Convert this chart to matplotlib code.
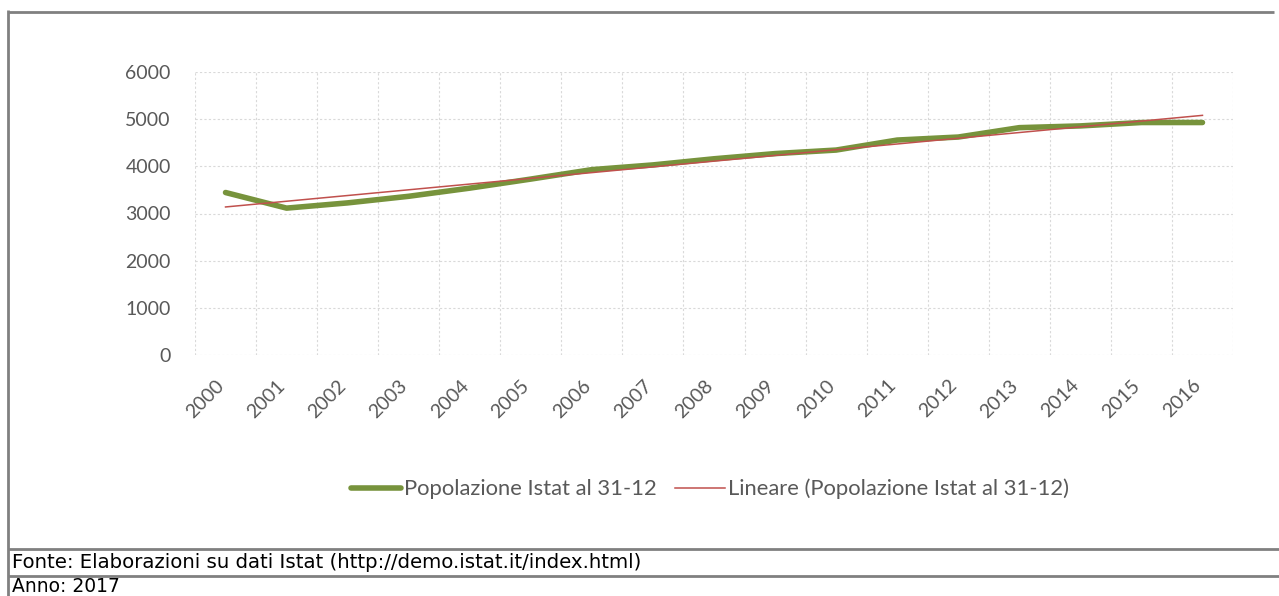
import numpy as np
import matplotlib
matplotlib.use("Agg")
import matplotlib.pyplot as plt
from matplotlib.lines import Line2D
from matplotlib.transforms import ScaledTranslation

years = ["2000", "2001", "2002", "2003", "2004", "2005", "2006", "2007", "2008",
         "2009", "2010", "2011", "2012", "2013", "2014", "2015", "2016"]
population = [3445, 3114, 3225, 3365, 3538, 3730, 3930, 4030, 4160,
              4270, 4345, 4557, 4621, 4820, 4857, 4929, 4929]
y_ticks = [0, 1000, 2000, 3000, 4000, 5000, 6000]
series_label = "Popolazione Istat al 31-12"
trend_label = "Lineare (Popolazione Istat al 31-12)"
source_text = "Fonte: Elaborazioni su dati Istat (http://demo.istat.it/index.html)"
year_text = "Anno: 2017"

W, H = 1279, 596
fig = plt.figure(figsize=(W / 100, H / 100), dpi=100)
fig.patch.set_facecolor("white")

ax = fig.add_axes([195 / W, 1 - 355 / H, (1233 - 195) / W, (355 - 72) / H])
x = np.arange(len(years))
coef = np.polyfit(x, population, 1)
trend = np.polyval(coef, x)

green = "#77933C"
red = "#C0504D"
ax.plot(x, population, color=green, lw=4.0, solid_capstyle="round",
        solid_joinstyle="round", label=series_label, zorder=3)
ax.plot(x, trend, color=red, lw=1.1, label=trend_label, zorder=4)

ax.set_xlim(-0.5, len(years) - 0.5)
ax.set_ylim(0, 6000)
ax.set_yticks(y_ticks)
ax.set_xticks(x)
ax.grid(False)
for yv in y_ticks:
    ax.axhline(yv, color="#d9d9d9", lw=0.8, ls=(0, (2, 2)), zorder=1)
for xv in np.arange(-0.5, len(years), 1.0):
    ax.axvline(xv, color="#d9d9d9", lw=0.8, ls=(0, (2, 2)), zorder=1)
for s in ax.spines.values():
    s.set_visible(False)
ax.tick_params(which="both", length=0)
tick_font = dict(family="Lato", size=14, color="#595959")
ax.set_yticklabels([str(v) for v in y_ticks], **tick_font)
ax.tick_params(axis="y", pad=17.5)
ax.set_xticklabels(years, rotation=45, ha="right", va="top",
                   rotation_mode="anchor", **tick_font)
ax.tick_params(axis="x", pad=12)
off = ScaledTranslation(-10 / 100, -5 / 100, fig.dpi_scale_trans)
for lab in ax.get_xticklabels():
    lab.set_transform(lab.get_transform() + off)

leg = fig.legend(loc="center", bbox_to_anchor=(710 / W, 1 - 489 / H), ncol=2,
                 frameon=False, handlelength=2.3, handletextpad=0.15,
                 columnspacing=0.8, prop=dict(family="Lato", size=15.8))
for t in leg.get_texts():
    t.set_color("#595959")
leg.get_lines()[0].set_linewidth(4.0)
leg.get_lines()[0].set_solid_capstyle("round")

border = "#808080"
def fl(x0, y0, x1, y1, lw=2.0):
    fig.add_artist(Line2D([x0 / W, x1 / W], [1 - y0 / H, 1 - y1 / H],
                          transform=fig.transFigure, color=border, lw=lw,
                          solid_capstyle="butt"))

fl(8, 11.5, 1274, 11.5)
fl(8, 10, 8, 596)
fl(8, 548.5, 1279, 548.5)
fl(8, 575.5, 1279, 575.5)

fig.text(12 / W, 1 - 562 / H, source_text, family="DejaVu Sans", size=14.2,
         color="black", va="center", ha="left")
fig.text(12 / W, 1 - 592 / H, year_text, family="DejaVu Sans", size=13.5,
         color="black", va="baseline", ha="left")

fig.savefig("out.png", dpi=100, facecolor="white")
